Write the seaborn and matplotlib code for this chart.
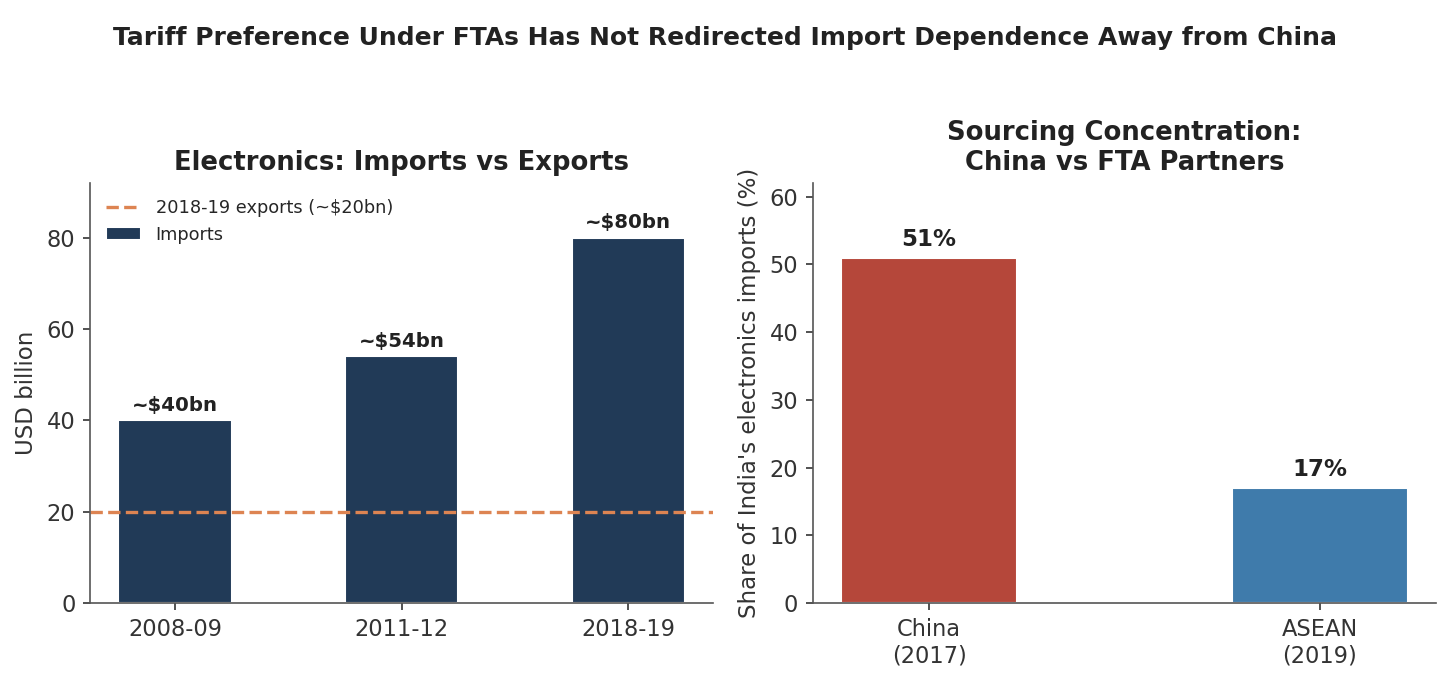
import matplotlib
matplotlib.use("Agg")
import matplotlib.pyplot as plt
import seaborn as sns
import pandas as pd

years = ["2008-09", "2011-12", "2018-19"]
imports_bn = [40, 54, 80]
import_labels = ["~$40bn", "~$54bn", "~$80bn"]
exports_2018_19 = 20

partners = ["China\n(2017)", "ASEAN\n(2019)"]
shares = [51, 17]
share_labels = ["51%", "17%"]

sns.set_theme(style="ticks")
plt.rcParams['font.family'] = ['DejaVu Sans']

navy = "#213a57"
orange = "#dd8452"
red = "#b5473a"
blue = "#3f7bab"
txt = "#222222"

fig, (ax1, ax2) = plt.subplots(1, 2, figsize=(1450/150, 682/150), dpi=150)
fig.subplots_adjust(left=90/1450, right=1436/1450, top=1-183/682, bottom=1-603/682, wspace=0.16)

df1 = pd.DataFrame({"year": years, "imports": imports_bn})
sns.barplot(data=df1, x="year", y="imports", color=navy, width=0.5, saturation=1, ax=ax1, label="Imports")
ax1.axhline(exports_2018_19, color=orange, linestyle="--", linewidth=1.6, label="2018-19 exports (~$20bn)")
for i, (v, lab) in enumerate(zip(imports_bn, import_labels)):
    ax1.text(i, v + 1.2, lab, ha="center", va="bottom", fontsize=9.5, fontweight="bold", color=txt)
ax1.set_xlim(-0.375, 2.375)
ax1.set_ylim(0, 92)
ax1.set_xlabel("")
ax1.set_ylabel("USD billion", fontsize=11, color="#333333")
ax1.set_title("Electronics: Imports vs Exports", fontsize=12.4, fontweight="bold", color=txt)
h, l = ax1.get_legend_handles_labels()
order = [l.index("2018-19 exports (~$20bn)"), l.index("Imports")]
ax1.legend([h[o] for o in order], [l[o] for o in order], loc="upper left", frameon=False, fontsize=8.5)

df2 = pd.DataFrame({"partner": partners, "share": shares})
sns.barplot(data=df2, x="partner", y="share", hue="partner", palette=[red, blue], width=0.45,
            saturation=1, legend=False, ax=ax2)
for i, (v, lab) in enumerate(zip(shares, share_labels)):
    ax2.text(i, v + 1.0, lab, ha="center", va="bottom", fontsize=11, fontweight="bold", color=txt)
ax2.set_xlim(-0.2975, 1.2975)
ax2.set_ylim(0, 62)
ax2.set_xlabel("")
ax2.set_ylabel("Share of India's electronics imports (%)", fontsize=11, color="#333333")
ax2.set_title("Sourcing Concentration:\nChina vs FTA Partners", fontsize=12.4, fontweight="bold", color=txt)

for ax in (ax1, ax2):
    sns.despine(ax=ax)
    ax.tick_params(labelsize=10.8, colors="#333333", length=3.5, width=0.8)
    for s in ("left", "bottom"):
        ax.spines[s].set_color("#555555")
        ax.spines[s].set_linewidth(0.8)

fig.suptitle("Tariff Preference Under FTAs Has Not Redirected Import Dependence Away from China",
             fontsize=12, fontweight="bold", color=txt, y=1-26/682)

fig.savefig("out.png", dpi=150)
